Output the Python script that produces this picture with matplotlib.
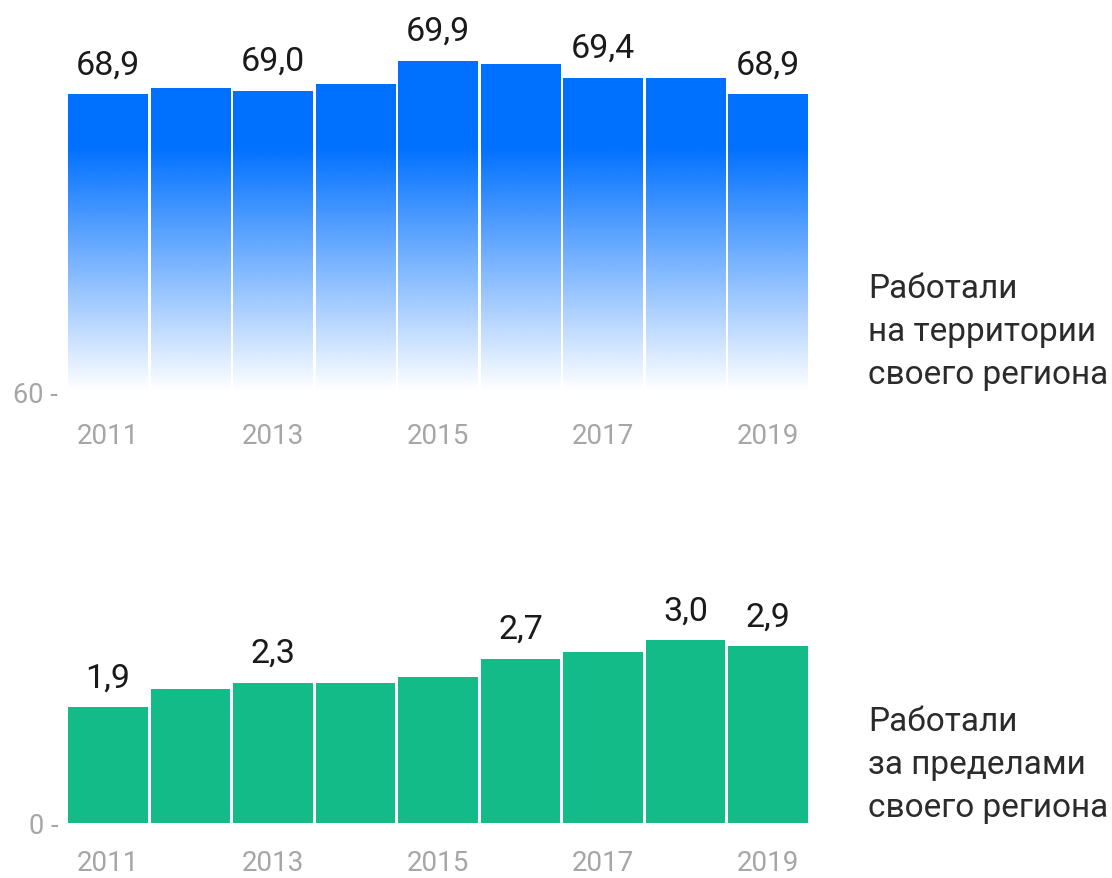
# Two bar panels: worked inside / outside own region, 2011-2019

import matplotlib
matplotlib.use("Agg")

import matplotlib.pyplot as plt
import numpy as np
from matplotlib.colors import to_rgb

plt.rcParams["font.family"] = ["Roboto", "DejaVu Sans"]

years = [2011, 2012, 2013, 2014, 2015, 2016, 2017, 2018, 2019]
insideRegion = [68.9, 69.1, 69.0, 69.2, 69.9, 69.8, 69.4, 69.4, 68.9]
outsideRegion = [1.9, 2.2, 2.3, 2.3, 2.4, 2.7, 2.8, 3.0, 2.9]

insideLabelYears = [2011, 2013, 2015, 2017, 2019]
outsideLabelYears = [2011, 2013, 2016, 2018, 2019]

insideTitle = "Работали\nна территории\nсвоего региона"
outsideTitle = "Работали\nза пределами\nсвоего региона"

blue = "#0070ff"
green = "#13bb88"
grey = "#a6a6a6"
dark = "#1a1a1a"

W, H = 1112, 879
fig = plt.figure(figsize=(W / 100, H / 100), dpi=100)
fig.patch.set_facecolor("white")

left = 66.5 / W
width = 743 / W
axTop = fig.add_axes([left, (H - 392) / H, width, 350 / H])
axBot = fig.add_axes([left, (H - 824) / H, width, 201 / H])

x = np.arange(len(years))
barWidth = 0.965


def styleAxis(ax, baseTick, ylim, xpad):
    ax.set_xlim(-0.5, len(years) - 0.5)
    ax.set_ylim(*ylim)
    for s in ax.spines.values():
        s.set_visible(False)
    ax.set_yticks([baseTick])
    ax.set_yticklabels([str(baseTick) + " -"])
    ax.tick_params(axis="y", length=0, pad=6, labelsize=19.5, labelcolor=grey)
    ticks = [years.index(y) for y in years if y % 2 == 1]
    ax.set_xticks(ticks)
    ax.set_xticklabels([str(years[i]) for i in ticks])
    ax.tick_params(axis="x", length=0, pad=xpad, labelsize=20, labelcolor=grey)


def addValueLabels(ax, values, labelYears):
    for yr in labelYears:
        i = years.index(yr)
        ax.annotate(("%.1f" % values[i]).replace(".", ","), (x[i], values[i]),
                    xytext=(0, 10), textcoords="offset points", ha="center",
                    va="bottom", fontsize=24.5, color=dark, annotation_clip=False)


# top panel, blue bars fading to white at the bottom
topLim = (60, 70.5)
bars = axTop.bar(x, insideRegion, width=barWidth, bottom=0, color="none", linewidth=0)
r, g, b = to_rgb(blue)
for bar, v in zip(bars, insideRegion):
    ys = np.linspace(topLim[0], v, 300)
    alpha = np.clip((ys - 60.0) / (67.3 - 60.0), 0.0, 1.0)
    img = np.zeros((len(ys), 1, 4))
    img[:, 0, 0] = r
    img[:, 0, 1] = g
    img[:, 0, 2] = b
    img[:, 0, 3] = alpha
    x0 = bar.get_x()
    im = axTop.imshow(img, extent=[x0, x0 + bar.get_width(), topLim[0], v],
                      origin="lower", aspect="auto", interpolation="bilinear")
    im.set_clip_path(bar)
styleAxis(axTop, 60, topLim, 22)
addValueLabels(axTop, insideRegion, insideLabelYears)

# bottom panel, solid green bars
axBot.bar(x, outsideRegion, width=barWidth, color=green, linewidth=0)
styleAxis(axBot, 0, (0, 3.3), 19)
addValueLabels(axBot, outsideRegion, outsideLabelYears)

fig.text(868 / W, 1 - 332 / H, insideTitle, ha="left", va="center",
         fontsize=24, color="#2b2b2b", linespacing=1.45)
fig.text(868 / W, 1 - 765 / H, outsideTitle, ha="left", va="center",
         fontsize=24, color="#2b2b2b", linespacing=1.45)

fig.savefig("out.png", dpi=100, facecolor="white")
